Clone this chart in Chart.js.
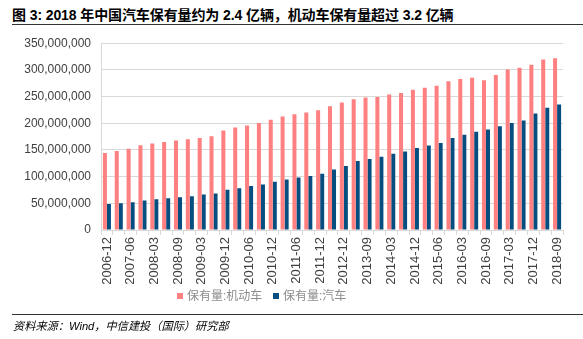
<!DOCTYPE html>
<html>
<head>
<meta charset="utf-8">
<script src="https://cdn.jsdelivr.net/npm/chart.js@4.4.1/dist/chart.umd.min.js"></script>
<style>
  html,body{margin:0;padding:0;background:#fff;}
  body{width:583px;height:339px;position:relative;overflow:hidden;font-family:"Liberation Sans","Noto Sans CJK SC",sans-serif;}
  #title{position:absolute;left:12px;top:4px;font-size:14px;font-weight:bold;color:#000;white-space:nowrap;letter-spacing:-0.1px;}
  #rule1{position:absolute;left:12px;right:0;top:24px;border-top:1px solid #333;}
  #rule2{position:absolute;left:12px;right:0;top:314px;border-top:1px solid #333;}
  #source{position:absolute;left:13px;top:317px;font-size:11.2px;font-style:italic;color:#000;white-space:nowrap;}
  #wrap{position:absolute;left:0;top:26px;width:583px;height:264px;}
  .lg{position:absolute;top:288px;font-size:12px;color:#8c8c8c;white-space:nowrap;line-height:16px;}
  .lg i{display:inline-block;width:6px;height:6px;margin-right:4px;vertical-align:1px;}
</style>
</head>
<body>
<div id="title">图 3: 2018 年中国汽车保有量约为 2.4 亿辆，机动车保有量超过 3.2 亿辆</div>
<div id="rule1"></div>
<div id="wrap"><canvas id="c"></canvas></div>
<div class="lg" style="left:177px"><i style="background:#ff8080"></i>保有量:机动车</div>
<div class="lg" style="left:273px"><i style="background:#064e80"></i>保有量:汽车</div>
<div id="rule2"></div>
<div id="source">资料来源：Wind，中信建投（国际）研究部</div>
<script>
// ------------------------------------------------------------
//  data (in millions of vehicles)
// ------------------------------------------------------------
const dates=['2006-12','2007-03','2007-06','2007-12','2008-03','2008-06','2008-09','2008-12','2009-03','2009-06',
  '2009-12','2010-03','2010-06','2010-09','2010-12','2011-03','2011-06','2011-09','2011-12','2012-06',
  '2012-12','2013-06','2013-09','2013-12','2014-03','2014-06','2014-12','2015-03','2015-06','2015-12',
  '2016-03','2016-06','2016-09','2016-12','2017-03','2017-06','2017-12','2018-06','2018-09'];
const motorVehicles=[144.2,147.9,152.1,158.9,162.0,165.0,167.5,169.9,172.4,175.5,
  186.6,192.1,195.7,200.6,206.7,212.8,217.1,220.1,224.4,232.0,
  239.0,245.1,248.2,249.4,253.7,256.7,262.8,266.5,270.1,278.6,
  282.8,285.3,280.4,290.2,300.5,304.2,309.7,319.5,321.9];
const cars=[48.5,50.3,52.1,55.2,57.7,59.5,61.3,63.2,66.3,68.5,
  75.6,78.0,82.3,85.4,90.2,94.5,98.2,101.2,105.5,113.4,
  120.1,129.3,132.9,137.2,142.7,147.0,153.7,158.5,162.8,172.3,
  178.4,183.9,188.1,194.3,200.4,205.3,218.1,229.1,235.2];
const yTicks=[0,50000000,100000000,150000000,200000000,250000000,300000000,350000000];

const M=1000000;
const font="'Liberation Sans','Noto Sans CJK SC',sans-serif";
new Chart(document.getElementById('c'),{
  type:'bar',
  data:{labels:dates,datasets:[
    {label:'保有量:机动车',data:motorVehicles.map(v=>Math.round(v*M)),backgroundColor:'#ff8080',
      barPercentage:1,categoryPercentage:0.68},
    {label:'保有量:汽车',data:cars.map(v=>Math.round(v*M)),backgroundColor:'#064e80',
      barPercentage:1,categoryPercentage:0.68},
  ]},
  options:{
    responsive:true,maintainAspectRatio:false,animation:false,
    layout:{padding:{top:1,right:20,left:0,bottom:0}},
    plugins:{legend:{display:false},tooltip:{enabled:false}},
    scales:{
      x:{
        afterFit:s=>{s.height=60;},
        grid:{offset:true,drawOnChartArea:false,color:'#d9d9d9',tickLength:5},
        border:{color:'#d9d9d9'},
        ticks:{autoSkip:false,maxRotation:90,minRotation:90,color:'#404040',padding:2,font:{family:font,size:13},
          callback:function(v,i){return i%2===0?dates[i]:'';}},
      },
      y:{
        min:0,max:350000000,
        afterBuildTicks:s=>{s.ticks=yTicks.map(v=>({value:v}));},
        afterFit:s=>{s.width=101;},
        grid:{color:'#d9d9d9',drawTicks:false},
        border:{color:'#d9d9d9'},
        ticks:{color:'#404040',padding:10,font:{family:font,size:12},callback:v=>v.toLocaleString('en-US')},
      },
    }
  }
});
</script>
</body>
</html>
